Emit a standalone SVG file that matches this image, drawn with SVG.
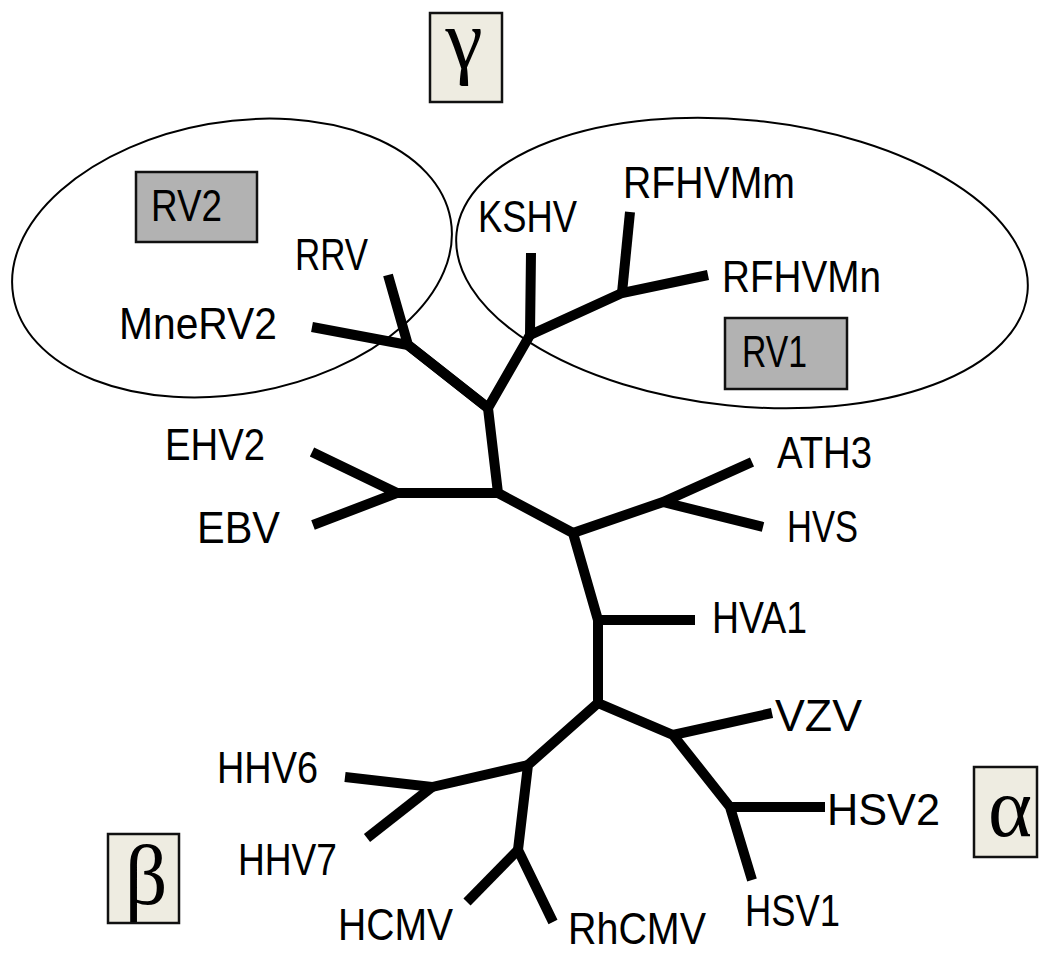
<svg xmlns="http://www.w3.org/2000/svg" width="1039" height="953" viewBox="0 0 1039 953">
<style>
.bg{fill:#ffffff}
.ell{fill:none;stroke:#000;stroke-width:2}
.br{fill:none;stroke:#000;stroke-width:10;stroke-linecap:butt;stroke-linejoin:miter;stroke-miterlimit:3}
.lbl{font-family:"Liberation Sans",Arial,sans-serif;font-size:44px;fill:#000}
.greek{font-family:"Liberation Serif","Times New Roman",serif;font-size:84px;fill:#000;text-anchor:middle}
.gbox{fill:#eeece1;stroke:#111;stroke-width:2.5}
.rvbox{fill:#b2b2b2;stroke:#111;stroke-width:2.5}
</style>
<rect class="bg" x="0" y="0" width="1039" height="953"/>
<g id="clusters">
<ellipse id="cluster-rv2" class="ell" cx="232" cy="258" rx="222" ry="136" transform="rotate(-10 232 258)"/>
<ellipse id="cluster-rv1" class="ell" cx="742" cy="263" rx="287" ry="143" transform="rotate(6 742 263)"/>
</g>
<g id="connectors">
<polyline class="br" points="388,275 408,345 488,408"/>
<polyline class="br" points="312,327 408,345 488,408"/>
<polyline class="br" points="530,335 488,408 498,493 573,533 598,620 598,703 673,735 730,807 752,880"/>
<polyline class="br" points="531,253 530,335 622,293 708,275"/>
<polyline class="br" points="630,212 622,293"/>
<polyline class="br" points="312,452 397,493 313,525"/>
<polyline class="br" points="397,493 498,493"/>
<polyline class="br" points="573,533 663,502 752,462"/>
<polyline class="br" points="663,502 763,527"/>
<polyline class="br" points="598,620 695,620"/>
<polyline class="br" points="673,735 772,713"/>
<polyline class="br" points="730,807 825,807"/>
<polyline class="br" points="598,703 528,765 518,850 553,922"/>
<polyline class="br" points="528,765 432,787 345,777"/>
<polyline class="br" points="432,787 367,838"/>
<polyline class="br" points="518,850 467,902"/>
</g>
<g id="box-gamma"><rect class="gbox" x="430" y="13" width="72" height="89"/><text class="greek" x="464" y="68">γ</text></g>
<g id="box-beta"><rect class="gbox" x="108" y="834" width="71" height="89"/><text class="greek" x="146" y="904">β</text></g>
<g id="box-alpha"><rect class="gbox" x="974" y="767" width="63" height="90"/><text class="greek" x="1010" y="836">α</text></g>
<g id="box-rv2"><rect class="rvbox" x="136" y="172" width="121" height="70"/><text class="lbl" x="151" y="221" textLength="71" lengthAdjust="spacingAndGlyphs">RV2</text></g>
<g id="box-rv1"><rect class="rvbox" x="725" y="318" width="122" height="71"/><text class="lbl" x="742" y="367" textLength="65" lengthAdjust="spacingAndGlyphs">RV1</text></g>
<g id="n-rrv"><text class="lbl" x="295" y="270" textLength="73" lengthAdjust="spacingAndGlyphs">RRV</text></g>
<g id="n-mnerv2"><text class="lbl" x="119" y="339" textLength="158" lengthAdjust="spacingAndGlyphs">MneRV2</text></g>
<g id="n-kshv"><text class="lbl" x="478" y="232" textLength="99" lengthAdjust="spacingAndGlyphs">KSHV</text></g>
<g id="n-rfhvmm"><text class="lbl" x="623" y="198" textLength="172" lengthAdjust="spacingAndGlyphs">RFHVMm</text></g>
<g id="n-rfhvmn"><text class="lbl" x="722" y="292" textLength="159" lengthAdjust="spacingAndGlyphs">RFHVMn</text></g>
<g id="n-ehv2"><text class="lbl" x="165" y="460" textLength="100" lengthAdjust="spacingAndGlyphs">EHV2</text></g>
<g id="n-ebv"><text class="lbl" x="197" y="543" textLength="83" lengthAdjust="spacingAndGlyphs">EBV</text></g>
<g id="n-ath3"><text class="lbl" x="777" y="468" textLength="95" lengthAdjust="spacingAndGlyphs">ATH3</text></g>
<g id="n-hvs"><text class="lbl" x="787" y="542" textLength="71" lengthAdjust="spacingAndGlyphs">HVS</text></g>
<g id="n-hva1"><text class="lbl" x="712" y="633" textLength="95" lengthAdjust="spacingAndGlyphs">HVA1</text></g>
<g id="n-vzv"><text class="lbl" x="775" y="731" textLength="87" lengthAdjust="spacingAndGlyphs">VZV</text></g>
<g id="n-hsv2"><text class="lbl" x="827" y="825" textLength="113" lengthAdjust="spacingAndGlyphs">HSV2</text></g>
<g id="n-hsv1"><text class="lbl" x="745" y="926" textLength="95" lengthAdjust="spacingAndGlyphs">HSV1</text></g>
<g id="n-hhv6"><text class="lbl" x="217" y="783" textLength="101" lengthAdjust="spacingAndGlyphs">HHV6</text></g>
<g id="n-hhv7"><text class="lbl" x="238" y="875" textLength="99" lengthAdjust="spacingAndGlyphs">HHV7</text></g>
<g id="n-hcmv"><text class="lbl" x="338" y="940" textLength="115" lengthAdjust="spacingAndGlyphs">HCMV</text></g>
<g id="n-rhcmv"><text class="lbl" x="568" y="944" textLength="138" lengthAdjust="spacingAndGlyphs">RhCMV</text></g>
</svg>
